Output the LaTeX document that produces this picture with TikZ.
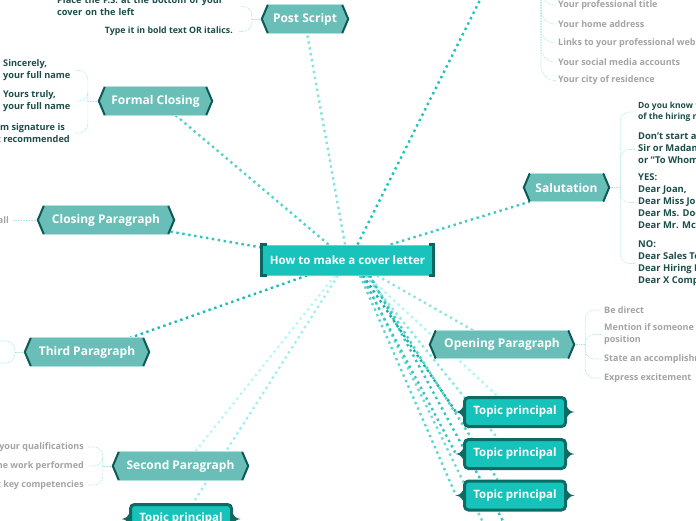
\documentclass[tikz,border=0pt]{standalone}
\usepackage{fontspec}
\setmainfont{Open Sans}
\usetikzlibrary{backgrounds}
\definecolor{cfill}{HTML}{17C3BB}
\definecolor{clight}{HTML}{5ED6CF}
\definecolor{cdark}{HTML}{0B6660}
\definecolor{brfillc}{HTML}{6ABEB8}
\definecolor{brdarkc}{HTML}{0D5954}
\definecolor{brlightc}{HTML}{B2E2DF}
\definecolor{tpfillc}{HTML}{15C3BB}
\definecolor{tpdarkc}{HTML}{0C6B65}
\definecolor{dtxt}{HTML}{1B4D49}
\definecolor{gtxt}{HTML}{A3A3A3}
\definecolor{subc}{HTML}{A6E7E4}
\definecolor{k1}{HTML}{86E2DF}
\definecolor{k2}{HTML}{55D0CA}
\definecolor{k3}{HTML}{2CC4BD}
\definecolor{k4}{HTML}{18BDB5}
\definecolor{k5}{HTML}{BDF6F6}
\definecolor{k6}{HTML}{A3EEEE}
\definecolor{k7}{HTML}{3CC9C3}
\definecolor{k8}{HTML}{1EC3BB}
\definecolor{k9}{HTML}{8FE3E0}
\definecolor{k10}{HTML}{B5F4F4}
\definecolor{k11}{HTML}{13B1AA}
\definecolor{k12}{HTML}{36C6C0}
\definecolor{k13}{HTML}{5ED6D0}
\definecolor{k14}{HTML}{8AE6E3}
\definecolor{k15}{HTML}{4CCFC9}
\definecolor{k16}{HTML}{6EDBD6}
\definecolor{k17}{HTML}{2FC4BD}
\newcommand\brtips[1]{%
  \fill[brfillc] (#1.north west) -- ([xshift=-6pt]#1.west) -- (#1.south west) -- cycle;
  \fill[brfillc] (#1.north east) -- ([xshift=6pt]#1.east) -- (#1.south east) -- cycle;
  \draw[brdark] (#1.north west) -- ([xshift=-6pt]#1.west) -- (#1.south west);
  \draw[brdark] (#1.north east) -- ([xshift=6pt]#1.east) -- (#1.south east);
  \draw[brlight] (#1.north west) -- (#1.north east);
  \draw[brlight] (#1.south west) -- (#1.south east);
}
\newcommand\tptips[1]{%
  \fill[tpdarkc] ([yshift=5pt]#1.west) .. controls ([xshift=-3pt,yshift=1pt]#1.west) .. ([xshift=-7.5pt]#1.west) .. controls ([xshift=-3pt,yshift=-1pt]#1.west) .. ([yshift=-5pt]#1.west) -- cycle;
  \fill[tpdarkc] ([yshift=5pt]#1.east) .. controls ([xshift=3pt,yshift=1pt]#1.east) .. ([xshift=7.5pt]#1.east) .. controls ([xshift=3pt,yshift=-1pt]#1.east) .. ([yshift=-5pt]#1.east) -- cycle;
}
\begin{document}
\begin{tikzpicture}[x=1pt,y=-1pt,
  central/.style={rectangle, fill=cfill, draw=clight, line width=1pt, minimum width=171pt, minimum height=30pt, text=white, font=\bfseries\fontsize{11.5}{13}\selectfont, inner sep=2pt},
  branch/.style={rectangle, fill=brfillc, minimum height=28pt, text=white, font=\bfseries\fontsize{12}{14}\selectfont, inner sep=2pt},
  brdark/.style={draw=brdarkc, line width=2pt, line join=miter},
  brlight/.style={draw=brlightc, line width=1pt},
  topic/.style={rectangle, rounded corners=4pt, fill=tpfillc, draw=tpdarkc, line width=3pt, minimum width=101pt, minimum height=29pt, text=white, font=\bfseries\fontsize{11.5}{13}\selectfont, inner sep=2pt},
  dtext/.style={text=dtxt, font=\bfseries\fontsize{9.2}{12}\selectfont, inner sep=0pt, align=left},
  gtext/.style={text=gtxt, font=\bfseries\fontsize{9}{12}\selectfont, inner sep=0pt, align=left},
  conn/.style={line width=2.4pt, dash pattern=on 2.4pt off 3.6pt},
  sub/.style={draw=subc, line width=0.6pt, dash pattern=on 0.8pt off 0.8pt, rounded corners=9pt}
]
\useasboundingbox (0,0) rectangle (696,520);
\clip (0,0) rectangle (696,520);

% main nodes
\node[central] (c) at (347.5,260) {How to make a cover letter};
\draw[cdark, line width=2.5pt] ([xshift=5pt]c.north west) -- (c.north west) -- (c.south west) -- ([xshift=5pt]c.south west);
\draw[cdark, line width=2.5pt] ([xshift=-5pt]c.north east) -- (c.north east) -- (c.south east) -- ([xshift=-5pt]c.south east);

\node[branch, minimum width=74pt] (ps) at (305,19) {Post Script};
\node[branch, minimum width=101pt] (fc) at (155.5,101) {Formal Closing};
\node[branch, minimum width=124pt] (cp) at (106,220) {Closing Paragraph};
\node[branch, minimum width=112pt] (tp3) at (87,352) {Third Paragraph};
\node[branch, minimum width=123pt] (sp2) at (180.5,466) {Second Paragraph};
\node[branch, minimum width=73pt] (sal) at (566.5,187.5) {Salutation};
\node[branch, minimum width=132pt] (op) at (502,344.5) {Opening Paragraph};
\foreach \n in {ps,fc,cp,tp3,sp2,sal,op}{\brtips{\n}}

\node[topic] (t1) at (515,412) {Topic principal};
\node[topic] (t2) at (515,454) {Topic principal};
\node[topic] (t3) at (515,495.5) {Topic principal};
\node[topic] (t4) at (181,519) {Topic principal};
\foreach \n in {t1,t2,t3,t4}{\tptips{\n}}

\coordinate (contact) at (486,-12);
\coordinate (down1) at (494,545);
\coordinate (down2) at (516,545);

% Post Script children
\node[dtext, anchor=west, text width=182pt] (ps1) at (57,6.5) {Place the P.S. at the bottom of your\\cover on the left};
\node[dtext, font=\bfseries\fontsize{8.8}{12}\selectfont, anchor=east] (ps2) at (233,31.5) {Type it in bold text OR italics.};
\coordinate (psJ) at ([xshift=-16pt]ps.west);

% Formal Closing children
\node[dtext, anchor=west] (fc1) at (3,70.5) {Sincerely,\\your full name};
\node[dtext, anchor=west] (fc2) at (3,101) {Yours truly,\\your full name};
\node[dtext, anchor=east] (fc3) at (70,133) {Form signature is\\not recommended};
\coordinate (fcJ) at ([xshift=-17pt]fc.west);

% Closing Paragraph child
\node[gtext, anchor=east] (cp1) at (9,220) {Ask for a call};

% Third Paragraph children (off canvas)
\coordinate (tp3J) at ([xshift=-16pt]tp3.west);
\coordinate (tp3a) at (-8,341);
\coordinate (tp3b) at (-8,363);

% Second Paragraph children
\node[gtext, anchor=east] (sp2a) at (84,447) {Summarize your qualifications};
\node[gtext, anchor=east] (sp2b) at (84,466) {Describe the work performed};
\node[gtext, anchor=east] (sp2c) at (84,485) {Highlight key competencies};
\coordinate (sp2J) at ([xshift=-16pt]sp2.west);

% Salutation children
\node[dtext, font=\bfseries\fontsize{8.5}{11}\selectfont, anchor=west] (sal1) at (638,112) {Do you know the name\\of the hiring manager?};
\node[dtext, font=\bfseries\fontsize{9.4}{12}\selectfont, anchor=west] (sal2) at (638,149.5) {Don’t start a letter with “Dear\\Sir or Madam”\\or “To Whom It May Concern”};
\node[dtext, font=\bfseries\fontsize{9.4}{12}\selectfont, anchor=west] (sal3) at (638,202.5) {YES:\\Dear Joan,\\Dear Miss Jones,\\Dear Ms. Doe,\\Dear Mr. McGregor,};
\node[dtext, font=\bfseries\fontsize{9.4}{12}\selectfont, anchor=west] (sal4) at (638,263.5) {NO:\\Dear Sales Team,\\Dear Hiring Manager,\\Dear X Company,};
\coordinate (salJ) at ([xshift=17pt]sal.east);

% Opening Paragraph children
\node[gtext, anchor=west] (op1) at (604,310) {Be direct};
\node[gtext, anchor=west] (op2) at (604,334.5) {Mention if someone referred you to the\\position};
\node[gtext, anchor=west] (op3) at (604,359) {State an accomplishment};
\node[gtext, anchor=west] (op4) at (604,378) {Express excitement};
\coordinate (opJ) at ([xshift=17pt]op.east);

% Contact children
\node[gtext, anchor=west] (ct1) at (558,5) {Your professional title};
\node[gtext, anchor=west] (ct2) at (558,24) {Your home address};
\node[gtext, anchor=west] (ct3) at (558,43) {Links to your professional website};
\node[gtext, anchor=west] (ct4) at (558,62) {Your social media accounts};
\node[gtext, anchor=west] (ct5) at (558,80.5) {Your city of residence};
\coordinate (ctJ) at (541,-14);

\begin{scope}[on background layer]
\clip (0,0) rectangle (696,520);
% main connectors from the central topic
\draw[conn, k1] ([xshift=-2.5pt]c.north) -- ([xshift=2pt]ps.south);
\draw[conn, k2] ([xshift=-19pt]c.north) -- ([xshift=20pt]fc.south);
\draw[conn, k3] ([yshift=-3pt]c.north west) -- ([yshift=3pt]cp.south east);
\draw[conn, k4] ([xshift=-40.5pt]c.south) -- ([xshift=43pt]tp3.north);
\draw[conn, k5] ([xshift=-12.5pt]c.south) -- ([xshift=14.5pt]sp2.north);
\draw[conn, k6] ([xshift=-9.5pt]c.south) -- ([xshift=12pt]t4.north);
\draw[conn, k7] ([xshift=43pt]c.north) -- (sal.south west);
\draw[conn, k8] ([xshift=10pt]c.north) -- (contact);
\draw[conn, k9] ([xshift=29.5pt]c.south) -- ([xshift=-29pt]op.north);
\draw[conn, k10] ([xshift=19.5pt]c.south) -- ([xshift=-17.5pt]t1.north);
\draw[conn, k14] ([xshift=18pt]c.south) -- ([xshift=-17.5pt]t2.north);
\draw[conn, k15] ([xshift=21pt]c.south) -- ([xshift=-17.5pt]t3.north);
\draw[conn, k16] ([xshift=15.5pt]c.south) -- (down1);
\draw[conn, k17] ([xshift=22.5pt]c.south) -- (down2);
\draw[conn, k11] ([xshift=15.5pt]c.south) -- ([xshift=-7pt]t1.west);
\draw[conn, k12] ([xshift=14pt]c.south) -- ([xshift=-7pt]t2.west);
\draw[conn, k13] ([xshift=12.5pt]c.south) -- ([xshift=-7pt]t3.west);
% sub-topic connectors
\draw[sub] ([xshift=-6pt]ps.west) -- (psJ);
\draw[sub] (psJ) |- ([xshift=2pt]ps1.east);
\draw[sub] (psJ) |- ([xshift=5pt]ps2.east);
\draw[sub] ([xshift=-6pt]fc.west) -- (fcJ);
\draw[sub] (fcJ) |- ([xshift=5pt]fc1.east);
\draw[sub] (fcJ) |- ([xshift=5pt]fc2.east);
\draw[sub] (fcJ) |- ([xshift=5pt]fc3.east);
\draw[sub] ([xshift=-6pt]cp.west) -- ([xshift=4pt]cp1.east);
\draw[sub] ([xshift=-6pt]tp3.west) -- (tp3J);
\draw[sub] (tp3J) |- (tp3a);
\draw[sub] (tp3J) |- (tp3b);
\draw[sub] ([xshift=-6pt]sp2.west) -- (sp2J);
\draw[sub] (sp2J) |- ([xshift=4pt]sp2a.east);
\draw[sub] (sp2J) |- ([xshift=4pt]sp2b.east);
\draw[sub] (sp2J) |- ([xshift=4pt]sp2c.east);
\draw[sub] ([xshift=6pt]sal.east) -- (salJ);
\draw[sub] (salJ) |- ([xshift=-2pt]sal1.west);
\draw[sub] (salJ) |- ([xshift=-2pt]sal2.west);
\draw[sub] (salJ) |- ([xshift=-2pt]sal3.west);
\draw[sub] (salJ) |- ([xshift=-2pt]sal4.west);
\draw[sub] ([xshift=6pt]op.east) -- (opJ);
\draw[sub] (opJ) |- ([xshift=-3pt]op1.west);
\draw[sub] (opJ) |- ([xshift=-3pt]op2.west);
\draw[sub] (opJ) |- ([xshift=-3pt]op3.west);
\draw[sub] (opJ) |- ([xshift=-3pt]op4.west);
\foreach \n in {ct1,ct2,ct3,ct4,ct5}{\draw[sub, rounded corners=14pt] (ctJ) |- ([xshift=-2pt]\n.west);}
\end{scope}
\end{tikzpicture}
\end{document}
